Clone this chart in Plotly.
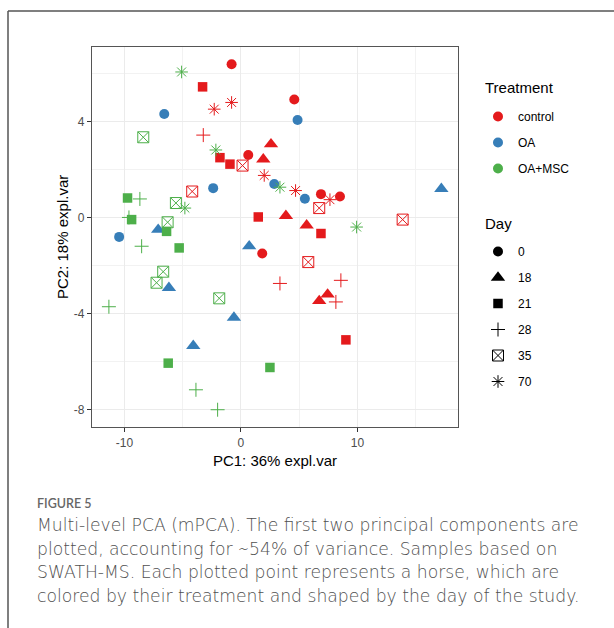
import plotly.graph_objects as go

# ---- data ----
treatments = ["control", "OA", "OA+MSC"]
days = ["0", "18", "21", "28", "35", "70"]

# control
ctrl_d0_pc1 = [-0.80, 0.63, 4.58, 6.87, 8.50, 1.83]
ctrl_d0_pc2 = [6.39, 2.61, 4.92, 0.98, 0.88, -1.49]
ctrl_d18_pc1 = [2.58, 1.92, 3.86, 5.64, 7.44, 6.72]
ctrl_d18_pc2 = [3.06, 2.43, 0.08, -0.32, -3.20, -3.47]
ctrl_d21_pc1 = [-3.29, -1.80, -0.94, 1.49, 6.87, 9.01]
ctrl_d21_pc2 = [5.45, 2.50, 2.23, 0.03, -0.66, -5.09]
ctrl_d28_pc1 = [-3.23, 3.35, 8.58, 8.15]
ctrl_d28_pc2 = [3.44, -2.74, -2.61, -3.51]
ctrl_d35_pc1 = [0.14, -4.18, 6.72, 13.88, 5.78]
ctrl_d35_pc2 = [2.17, 1.09, 0.40, -0.08, -1.85]
ctrl_d70_pc1 = [-2.29, -0.80, 2.00, 4.69, 7.64]
ctrl_d70_pc2 = [4.52, 4.80, 1.76, 1.13, 0.75]

# OA
oa_d0_pc1 = [-6.58, 4.86, 2.86, -2.38, 5.49, -10.45]
oa_d0_pc2 = [4.32, 4.07, 1.40, 1.23, 0.79, -0.80]
oa_d18_pc1 = [17.20, -7.10, 0.71, -6.18, -0.60, -4.09]
oa_d18_pc2 = [1.20, -0.50, -1.19, -2.92, -4.16, -5.34]

# OA+MSC
msc_d21_pc1 = [-9.73, -9.38, -6.38, -5.30, -6.24, 2.49]
msc_d21_pc2 = [0.82, -0.08, -0.57, -1.26, -6.06, -6.24]
msc_d28_pc1 = [-8.67, -9.61, -8.52, -11.33, -3.86, -2.00]
msc_d28_pc2 = [0.78, 0.01, -1.19, -3.71, -7.17, -8.00]
msc_d35_pc1 = [-8.38, -5.58, -6.29, -6.67, -7.24, -1.86]
msc_d35_pc2 = [3.35, 0.61, -0.19, -2.25, -2.71, -3.36]
msc_d70_pc1 = [-5.09, -2.15, 3.35, -4.81, 9.93]
msc_d70_pc2 = [6.07, 2.82, 1.27, 0.40, -0.39]

x_ticks = [-10, 0, 10]
x_tick_labels = ["-10", "0", "10"]
y_ticks = [-8, -4, 0, 4]
y_tick_labels = ["-8", "-4", "0", "4"]

x_title = "PC1: 36% expl.var"
y_title = "PC2: 18% expl.var"
legend_titles = ["Treatment", "Day"]
caption_title = "FIGURE 5"
caption_lines = [
    "Multi-level PCA (mPCA). The first two principal components are",
    "plotted, accounting for \u223c54% of variance. Samples based on",
    "SWATH-MS. Each plotted point represents a horse, which are",
    "colored by their treatment and shaped by the day of the study.",
]

# ---- styles ----
colors = {"control": "#E41A1C", "OA": "#377EB8", "OA+MSC": "#4DAF4A"}
symbols = {"0": "circle", "18": "triangle-up", "21": "square",
           "28": "cross-thin-open", "35": "square-x-open", "70": "asterisk-open"}
sizes = {"0": 10, "18": 12.5, "21": 9.5, "28": 10, "35": 11, "70": 10.5}
open_days = {"28", "35", "70"}

groups = [
    ("OA+MSC", "28", msc_d28_pc1, msc_d28_pc2),
    ("control", "28", ctrl_d28_pc1, ctrl_d28_pc2),
    ("control", "35", ctrl_d35_pc1, ctrl_d35_pc2),
    ("OA+MSC", "35", msc_d35_pc1, msc_d35_pc2),
    ("control", "0", ctrl_d0_pc1, ctrl_d0_pc2),
    ("OA", "0", oa_d0_pc1, oa_d0_pc2),
    ("control", "18", ctrl_d18_pc1, ctrl_d18_pc2),
    ("OA", "18", oa_d18_pc1, oa_d18_pc2),
    ("control", "21", ctrl_d21_pc1, ctrl_d21_pc2),
    ("OA+MSC", "21", msc_d21_pc1, msc_d21_pc2),
    ("control", "70", ctrl_d70_pc1, ctrl_d70_pc2),
    ("OA+MSC", "70", msc_d70_pc1, msc_d70_pc2),
]

W, H = 614, 628
PL, PR, PT, PB = 92, 458, 47, 427
SANS = "Liberation Sans, Arial"


def px(x):
    return (x - PL) / (PR - PL)


def py(y):
    return (PB - y) / (PB - PT)


def marker(color, day):
    m = dict(symbol=symbols[day], color=color, size=sizes[day])
    if day in open_days:
        m["line"] = dict(color=color, width=1)
    else:
        m["line"] = dict(width=0)
    return m


fig = go.Figure()
for trt, day, xs, ys in groups:
    fig.add_trace(go.Scatter(x=xs, y=ys, mode="markers", showlegend=False,
                             marker=marker(colors[trt], day), hoverinfo="x+y"))

# legend entries
for i, trt in enumerate(treatments):
    fig.add_trace(go.Scatter(x=[None], y=[None], mode="markers", name=trt,
                             legend="legend", legendgroup="t%d" % i,
                             marker=dict(symbol="circle", color=colors[trt], size=10)))
for i, day in enumerate(days):
    m = marker("black", day)
    fig.add_trace(go.Scatter(x=[None], y=[None], mode="markers", name=day,
                             legend="legend2", legendgroup="d%d" % i, marker=m))

axis_common = dict(
    showline=True, linecolor="#555555", linewidth=1.2, mirror=True,
    ticks="outside", ticklen=4, tickcolor="#333333", tickwidth=1,
    showgrid=True, gridcolor="#EBEBEB", gridwidth=1, zeroline=False,
    tickfont=dict(family=SANS, size=12, color="#4D4D4D"),
)
fig.update_xaxes(range=[-12.78, 18.63], tickvals=x_ticks, ticktext=x_tick_labels,
                 minor=dict(dtick=5, showgrid=True, gridcolor="#F2F2F2", gridwidth=0.6),
                 title=dict(text=x_title, standoff=6,
                            font=dict(family=SANS, size=15, color="black")),
                 **axis_common)
fig.update_yaxes(range=[-8.72, 7.11], tickvals=y_ticks, ticktext=y_tick_labels,
                 minor=dict(dtick=2, showgrid=True, gridcolor="#F2F2F2", gridwidth=0.6),
                 **axis_common)

legend_common = dict(
    xanchor="left", yanchor="top", bgcolor="rgba(0,0,0,0)",
    font=dict(family=SANS, size=12, color="black"),
    tracegroupgap=7, itemclick=False, itemdoubleclick=False,
)
fig.update_layout(
    width=W, height=H,
    margin=dict(l=PL, r=W - PR, t=PT, b=H - PB, autoexpand=False),
    plot_bgcolor="white", paper_bgcolor="white",
    legend=dict(x=px(478), y=py(102), **legend_common),
    legend2=dict(x=px(478), y=py(237), **legend_common),
)

# legend titles
for title, ty in zip(legend_titles, [87.5, 223.5]):
    fig.add_annotation(xref="paper", yref="paper", x=px(483), y=py(ty), xanchor="left", yanchor="middle",
                       text=title, showarrow=False,
                       font=dict(family=SANS, size=15, color="black"))

# y-axis title
fig.add_annotation(xref="paper", yref="paper", x=px(62), y=py(237), xanchor="center", yanchor="middle",
                   text=y_title, textangle=-90, showarrow=False,
                   font=dict(family=SANS, size=15, color="black"))

# frame lines
fig.add_shape(type="line", xref="paper", yref="paper", x0=px(8), x1=px(614), y0=py(11), y1=py(11),
              line=dict(color="#555555", width=1.5))
fig.add_shape(type="line", xref="paper", yref="paper", x0=px(8), x1=px(8), y0=py(11), y1=py(628),
              line=dict(color="#555555", width=1.5))

# caption
fig.add_annotation(xref="paper", yref="paper", x=px(35), y=py(503), xanchor="left", yanchor="middle",
                   text=caption_title, showarrow=False,
                   font=dict(family="Lato", size=12.5, color="#666666", weight=600))
for i, line in enumerate(caption_lines):
    fig.add_annotation(xref="paper", yref="paper", x=px(35), y=py(525 + 23.7 * i),
                       xanchor="left", yanchor="middle", text=line, showarrow=False,
                       font=dict(family="DejaVu Sans", size=17.2, color="#505050", weight=200))

fig.write_html("out.html")
